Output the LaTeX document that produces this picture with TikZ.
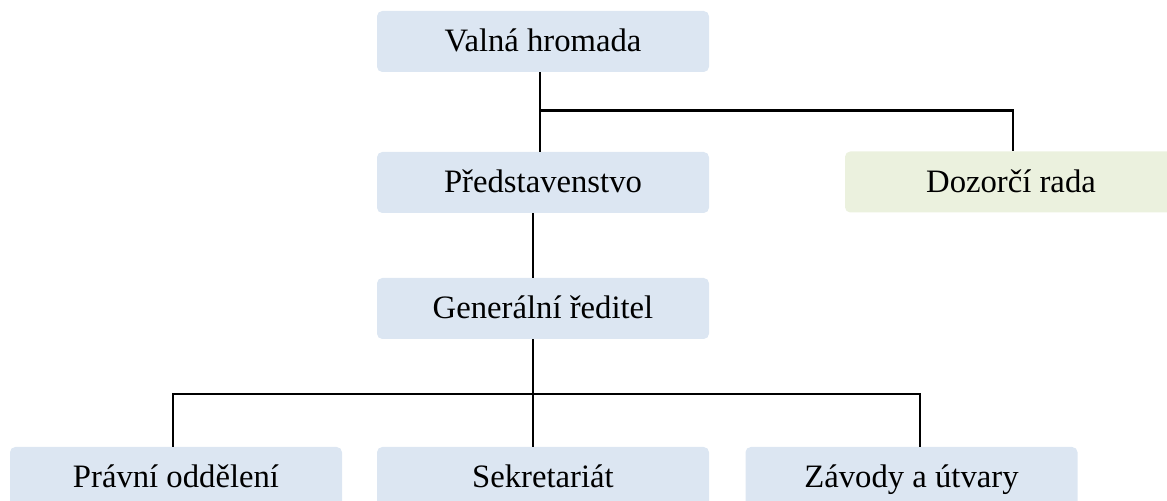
\documentclass[tikz,border=0pt]{standalone}
\usepackage{fontspec}
\setmainfont{Liberation Serif}
\usetikzlibrary{calc}

\begin{document}
\begin{tikzpicture}[every node/.style={font=\fontsize{18.6}{22}\selectfont}, orgbox/.style={rounded corners=3pt, minimum width=6.64cm, minimum height=1.22cm, inner sep=0pt, text height=0.5cm, text depth=0.08cm}, link/.style={line width=1.3pt, draw=black}]
\definecolor{BoxBlue}{HTML}{DCE6F2}\definecolor{BoxGreen}{HTML}{EBF1DE}
\clip (0,0) rectangle (23.34,10.02);
\node[orgbox, fill=BoxBlue] (valna) at (10.86,9.19) {Valná hromada};
\node[orgbox, fill=BoxBlue] (predst) at (10.86,6.37) {Představenstvo};
\node[orgbox, fill=BoxGreen] (dozor) at (20.22,6.38) {Dozorčí rada};
\node[orgbox, fill=BoxBlue] (general) at (10.86,3.85) {Generální ředitel};
\node[orgbox, fill=BoxBlue] (pravni) at (3.52,0.47) {Právní oddělení};
\node[orgbox, fill=BoxBlue] (sekret) at (10.86,0.47) {Sekretariát};
\node[orgbox, fill=BoxBlue] (zavody) at (18.23,0.47) {Závody a útvary};
\coordinate (topbus) at (10.80,7.81); \coordinate (lowbus) at (10.66,2.14);
\draw[link] ([xshift=-0.06cm]valna.south) -- ([xshift=-0.06cm]predst.north);
\draw[link] (topbus) -| ([xshift=0.04cm]dozor.north);
\draw[link] ([xshift=-0.2cm]predst.south) -- ([xshift=-0.2cm]general.north);
\draw[link] ([xshift=-0.2cm]general.south) -- ([xshift=-0.2cm]sekret.north);
\draw[link] ([xshift=-0.06cm]pravni.north) |- (lowbus) -| ([xshift=0.17cm]zavody.north);
\end{tikzpicture}
\end{document}
